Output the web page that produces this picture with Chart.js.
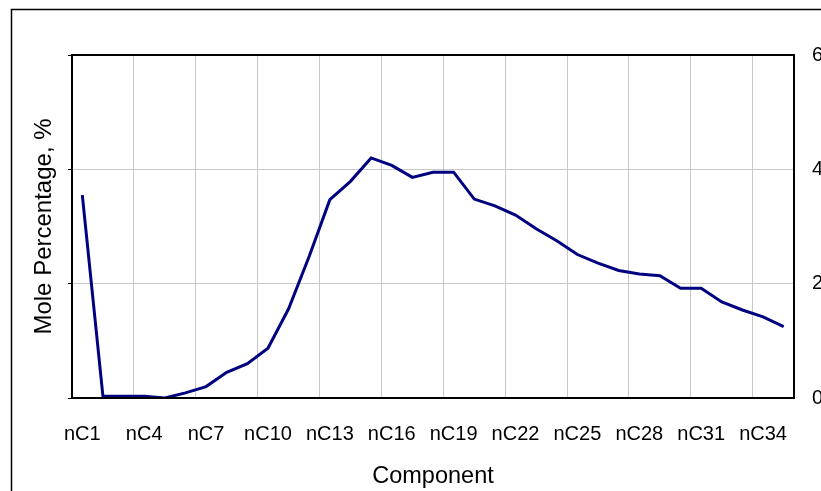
<!DOCTYPE html>
<html>
<head>
<meta charset="utf-8">
<script src="https://cdn.jsdelivr.net/npm/chart.js@4.4.1/dist/chart.umd.min.js"></script>
<style>
  html, body { margin: 0; padding: 0; background: #fff; }
  #wrap { width: 821px; height: 491px; position: relative; }
</style>
</head>
<body>
<div id="wrap"><canvas id="chart"></canvas></div>
<script>
// Carbon number components
const components = [
  'nC1', 'nC2', 'nC3', 'nC4', 'nC5', 'nC6', 'nC7', 'nC8', 'nC9', 'nC10',
  'nC11', 'nC12', 'nC13', 'nC14', 'nC15', 'nC16', 'nC17', 'nC18', 'nC19', 'nC20',
  'nC21', 'nC22', 'nC23', 'nC24', 'nC25', 'nC26', 'nC27', 'nC28', 'nC29', 'nC30',
  'nC31', 'nC32', 'nC33', 'nC34', 'nC35'
];
// Mole percentage
const molePct = [
  3.55, 0.03, 0.03, 0.03, 0.0, 0.09, 0.2, 0.45, 0.6, 0.87,
  1.56, 2.48, 3.47, 3.79, 4.2, 4.07, 3.86, 3.95, 3.95, 3.48,
  3.36, 3.2, 2.96, 2.75, 2.51, 2.36, 2.23, 2.17, 2.14, 1.92,
  1.92, 1.68, 1.54, 1.42, 1.25
];
const yTicks = [0, 2, 4, 6];

const labelFont = { family: "'Liberation Sans', Arial, sans-serif", size: 20 };
const yTitleFont = { family: "'Liberation Sans', Arial, sans-serif", size: 24 };
const xTitleFont = { family: "'Liberation Sans', Arial, sans-serif", size: 23.5 };

// Outer frame and plot box
const framePlugin = {
  id: 'frame',
  beforeDraw(chart) {
    const c = chart.ctx;
    c.save();
    c.fillStyle = '#fff';
    c.fillRect(0, 0, chart.width, chart.height);
    c.strokeStyle = '#000';
    c.lineWidth = 1.5;
    c.strokeRect(11.5, 9.5, 1000, 1000);
    c.restore();
  },
  afterDraw(chart) {
    const a = chart.chartArea;
    const c = chart.ctx;
    c.save();
    c.strokeStyle = '#000';
    c.lineWidth = 2;
    c.strokeRect(a.left, a.top, a.right - a.left, a.bottom - a.top);
    c.restore();
  }
};

new Chart(document.getElementById('chart'), {
  type: 'line',
  data: {
    labels: components,
    datasets: [{
      label: 'Mole Percentage',
      data: molePct,
      yAxisID: 'y2',
      borderColor: '#000080',
      borderWidth: 3,
      pointRadius: 0,
      tension: 0,
      fill: false
    }]
  },
  options: {
    responsive: true, maintainAspectRatio: false, animation: false,
    layout: { padding: { left: 0, top: 55, right: 0, bottom: 0 } },
    plugins: { legend: { display: false }, tooltip: { enabled: false } },
    scales: {
      x: {
        type: 'category',
        offset: true,
        border: { display: false },
        grid: {
          offset: true,
          drawTicks: false,
          color: ctx => (ctx.index > 0 && ctx.index < components.length && ctx.index % 3 === 0) ? '#c8c8c8' : 'rgba(0,0,0,0)'
        },
        ticks: {
          autoSkip: false, maxRotation: 0, padding: 24,
          color: '#000', font: labelFont,
          callback: (v, i) => i % 3 === 0 ? components[i] : ''
        },
        title: { display: true, text: 'Component', color: '#000', font: xTitleFont, padding: { top: 7, bottom: 0 } },
        afterFit: s => { s.height = 93; }
      },
      y: {
        position: 'left',
        min: 0, max: 6,
        border: { display: false },
        grid: {
          drawTicks: true, tickLength: 4, tickColor: '#000',
          color: ctx => (ctx.tick && ctx.tick.value > 0 && ctx.tick.value < 6) ? '#c8c8c8' : 'rgba(0,0,0,0)'
        },
        ticks: { display: false, stepSize: 2 },
        afterBuildTicks: s => { s.ticks = yTicks.map(v => ({ value: v })); },
        title: { display: true, text: 'Mole Percentage, %', color: '#000', font: yTitleFont, padding: { top: 30, bottom: 0 } },
        afterFit: s => { s.width = 72; }
      },
      y2: {
        position: 'right',
        min: 0, max: 6,
        border: { display: false },
        grid: { display: false, drawOnChartArea: false, drawTicks: false },
        ticks: { color: '#000', font: labelFont, padding: 18 },
        afterBuildTicks: s => { s.ticks = yTicks.map(v => ({ value: v })); },
        afterFit: s => { s.width = 27; }
      }
    }
  },
  plugins: [framePlugin]
});
</script>
</body>
</html>
